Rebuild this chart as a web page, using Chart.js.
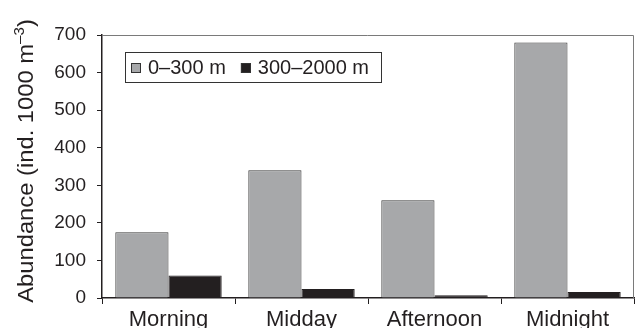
<!DOCTYPE html>
<html>
<head>
<meta charset="utf-8">
<script src="https://cdn.jsdelivr.net/npm/chart.js@4/dist/chart.umd.min.js"></script>
<style>
  html, body { margin: 0; padding: 0; background: #fff; }
  canvas { display: block; }
</style>
</head>
<body>
<canvas id="c" width="635" height="328"></canvas>
<script>
// Zooplankton abundance by time of day, two depth layers
const categories = ['Morning', 'Midday', 'Afternoon', 'Midnight'];
const shallowValues = [175, 340, 260, 680];   // 0–300 m
const deepValues = [60, 24, 7, 16];           // 300–2000 m
const seriesLabels = ['0–300 m', '300–2000 m'];
const yTickValues = [0, 100, 200, 300, 400, 500, 600, 700];

const FONT = '"Liberation Sans", Arial, Helvetica, sans-serif';
const INK = '#231f20';

// Boxed legend drawn inside the plot area, top-left
const insideLegend = {
  id: 'insideLegend',
  afterDraw(chart) {
    const ctx = chart.ctx;
    const area = chart.chartArea;
    const ds = chart.data.datasets;
    ctx.save();
    ctx.font = '20px ' + FONT;
    const x0 = area.left + 23, y0 = area.top + 17;
    const h = 30, sq = 10, padL = 6, gapSq = 7, gapItem = 15, padR = 12;
    let w = padL;
    ds.forEach((d, i) => {
      w += sq + gapSq + ctx.measureText(d.label).width;
      if (i < ds.length - 1) w += gapItem;
    });
    w += padR;
    ctx.fillStyle = '#fff';
    ctx.fillRect(x0, y0, w, h);
    ctx.strokeStyle = '#333';
    ctx.lineWidth = 1;
    ctx.strokeRect(Math.round(x0) + 0.5, Math.round(y0) + 0.5, Math.round(w), h);
    let x = x0 + padL;
    ctx.textBaseline = 'alphabetic';
    ds.forEach(d => {
      ctx.fillStyle = d.backgroundColor;
      ctx.fillRect(x, y0 + 11, sq, sq);
      ctx.strokeStyle = '#333';
      ctx.strokeRect(Math.round(x) + 0.5, y0 + 11.5, sq - 1, sq - 1);
      x += sq + gapSq;
      ctx.fillStyle = INK;
      ctx.fillText(d.label, x, y0 + 22);
      x += ctx.measureText(d.label).width + gapItem;
    });
    ctx.restore();
  }
};

// Grey frame on top and right, and the rotated y-axis title with superscript
const frameAndTitle = {
  id: 'frameAndTitle',
  afterDraw(chart) {
    const ctx = chart.ctx;
    const a = chart.chartArea;
    ctx.save();
    ctx.strokeStyle = '#7a7a7a';
    ctx.lineWidth = 1;
    ctx.beginPath();
    ctx.moveTo(a.left, Math.round(a.top) + 0.5);
    ctx.lineTo(Math.round(a.right) - 0.5, Math.round(a.top) + 0.5);
    ctx.lineTo(Math.round(a.right) - 0.5, a.bottom);
    ctx.stroke();

    const main = 'Abundance (ind. 1000 m';
    const sup = '–3';
    const close = ')';
    ctx.font = '22px ' + FONT;
    const wMain = ctx.measureText(main).width;
    const wClose = ctx.measureText(close).width;
    ctx.font = '14px ' + FONT;
    const wSup = ctx.measureText(sup).width;
    const total = wMain + wSup + wClose;
    ctx.translate(33, 161);
    ctx.rotate(-Math.PI / 2);
    ctx.scale(1.08, 1);
    ctx.fillStyle = INK;
    ctx.textBaseline = 'alphabetic';
    let x = -total / 2;
    ctx.font = '22px ' + FONT;
    ctx.fillText(main, x, 0);
    x += wMain;
    ctx.font = '14px ' + FONT;
    ctx.fillText(sup, x, -9);
    x += wSup;
    ctx.font = '22px ' + FONT;
    ctx.fillText(close, x, 0);
    ctx.restore();
  }
};

new Chart(document.getElementById('c'), {
  type: 'bar',
  data: {
    labels: categories,
    datasets: [
      { label: seriesLabels[0], data: shallowValues, backgroundColor: '#a7a8aa',
        borderColor: '#3a3a3a', borderWidth: 1, borderSkipped: 'bottom' },
      { label: seriesLabels[1], data: deepValues, backgroundColor: INK,
        borderColor: INK, borderWidth: 1, borderSkipped: 'bottom' }
    ]
  },
  options: {
    responsive: false,
    animation: false,
    devicePixelRatio: 1,
    layout: { padding: { top: 35, right: 1, left: 0, bottom: 0 } },
    datasets: { bar: { categoryPercentage: 0.8, barPercentage: 1.0 } },
    plugins: { legend: { display: false }, tooltip: { enabled: false } },
    scales: {
      x: {
        afterFit(s) { s.height = 30; },
        grid: { display: true, drawOnChartArea: false, offset: true, tickLength: 6, color: INK, lineWidth: 1 },
        border: { display: true, color: INK, width: 1.5 },
        ticks: { color: INK, font: { family: FONT, size: 22 }, padding: 3, maxRotation: 0 }
      },
      y: {
        min: 0, max: 700,
        afterFit(s) { s.width = 102; },
        afterBuildTicks(s) {
          const t = [];
          for (let v = 0; v <= 700; v += 50) t.push({ value: v });
          s.ticks = t;
        },
        grid: { display: true, drawOnChartArea: false, tickLength: 5, color: INK, lineWidth: 1 },
        border: { display: true, color: INK, width: 1.5 },
        ticks: {
          color: INK, font: { family: FONT, size: 19 }, padding: 11,
          callback: v => (yTickValues.includes(v) ? String(v) : '')
        }
      }
    }
  },
  plugins: [insideLegend, frameAndTitle]
});
</script>
</body>
</html>
